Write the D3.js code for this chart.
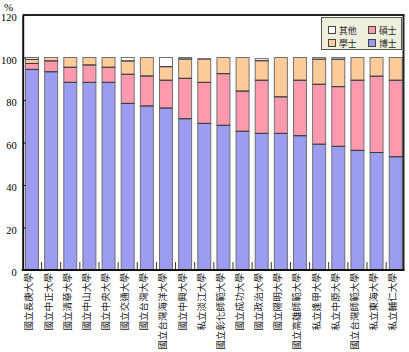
<!DOCTYPE html>
<html><head><meta charset="utf-8">
<script src="https://cdn.jsdelivr.net/npm/d3@7"></script>
<style>html,body{margin:0;padding:0;background:#fff;}svg{display:block;}</style>
</head><body>
<svg id="chart" width="409" height="352"></svg>
<script>
const categories = ["國立長庚大學","國立中正大學","國立清華大學","國立中山大學","國立中央大學","國立交通大學","國立台灣大學","國立台灣海洋大學","國立中興大學","私立淡江大學","國立彰化師範大學","國立成功大學","國立政治大學","國立陽明大學","國立高雄師範大學","私立逢甲大學","私立中原大學","國立台灣師範大學","私立東海大學","私立輔仁大學"];
const doctor   = [94.4,93.3,88.3,88.3,88.3,78.4,77.2,76.2,71.2,69.0,68.1,65.3,64.3,64.3,63.2,59.2,58.2,56.3,55.3,53.3];
const master   = [2.8,5.1,7.1,8.2,7.1,13.7,14.1,13.1,19.0,19.3,24.3,18.9,25.0,17.2,26.1,28.2,28.1,33.0,35.9,36.0];
const bachelor = [1.9,1.6,4.6,3.5,4.6,6.3,8.7,6.4,9.1,11.0,7.6,15.8,9.2,18.5,10.7,11.8,12.9,10.7,8.8,10.7];
const other    = [0.9,0,0,0,0,1.6,0,4.3,0.7,0,0,0,1.0,0,0,0.8,0.8,0,0,0];
const seriesNames = ["博士","碩士","學士","其他"];
const yTicks = [0,20,40,60,80,100,120];

(function(){
const colors = {"博士":"#9c9cf0","碩士":"#ff9aae","學士":"#ffcc99","其他":"#ffffff"};
const seriesData = {"博士":doctor,"碩士":master,"學士":bachelor,"其他":other};

const svg = d3.select("#chart");
const pLeft = 22.7, pRight = 403.5, pTop = 15, pBottom = 270;

const x = d3.scaleBand().domain(categories).range([pLeft, 405]).paddingInner(0.27).paddingOuter(0.12);
const y = d3.scaleLinear().domain([0,120]).range([pBottom, pTop]);

const table = categories.map((c,i)=>{const o={cat:c}; seriesNames.forEach(s=>o[s]=seriesData[s][i]); return o;});
const stacked = d3.stack().keys(seriesNames)(table);

const g = svg.append("g");
stacked.forEach(layer=>{
  g.selectAll(null).data(layer.filter(d=>d[1]-d[0]>0)).enter().append("rect")
    .attr("x", d=>x(d.data.cat)+0.5)
    .attr("y", d=>y(d[1]))
    .attr("width", x.bandwidth()-1)
    .attr("height", d=>y(d[0])-y(d[1]))
    .attr("fill", colors[layer.key])
    .attr("stroke", "#707070")
    .attr("stroke-width", 1);
});
stacked.slice(0,3).forEach(layer=>{
  g.selectAll(null).data(layer.filter(d=>d[1]-d[0]>0 && d[1] < 99.5)).enter().append("line")
    .attr("x1", d=>x(d.data.cat)+0.5).attr("x2", d=>x(d.data.cat)+x.bandwidth()-0.5)
    .attr("y1", d=>y(d[1])).attr("y2", d=>y(d[1]))
    .attr("stroke","#3a3a3a").attr("stroke-width",1);
});

const step = x.step();
svg.append("g").selectAll("line").data(categories.slice(1)).enter().append("line")
  .attr("x1", d=>x(d)-step*x.paddingInner()/2).attr("x2", d=>x(d)-step*x.paddingInner()/2)
  .attr("y1", pBottom-8).attr("y2", pBottom).attr("stroke","#333").attr("stroke-width",1);

svg.append("line").attr("x1",pLeft).attr("x2",pRight+1).attr("y1",pTop).attr("y2",pTop).attr("stroke","#222").attr("stroke-width",2);
svg.append("line").attr("x1",pRight).attr("x2",pRight).attr("y1",pTop).attr("y2",pBottom).attr("stroke","#222").attr("stroke-width",2);

const yAxis = d3.axisLeft(y).tickValues(yTicks).tickSizeInner(-3).tickSizeOuter(0).tickPadding(6);
const ya = svg.append("g").attr("transform",`translate(${pLeft},0)`).call(yAxis);
ya.select(".domain").attr("stroke","#111").attr("stroke-width",2);
ya.selectAll(".tick line").attr("stroke","#111");
ya.selectAll(".tick text").attr("font-family","Liberation Serif, serif").attr("font-size","10.5px").attr("fill","#000").attr("dy","0.55em");
svg.append("line").attr("x1",pLeft-1).attr("x2",pRight+1).attr("y1",pBottom).attr("y2",pBottom).attr("stroke","#111").attr("stroke-width",2);

svg.append("text").attr("x",4).attr("y",11).attr("font-family","Liberation Serif, serif").attr("font-size","11px").text("%");

svg.append("g").selectAll("text").data(categories).enter().append("text")
  .attr("transform", d=>`translate(${x(d)+x.bandwidth()/2-3},${pBottom+3}) rotate(-90)`)
  .attr("text-anchor","end").attr("dy","0.35em")
  .attr("font-family","Noto Sans CJK TC, sans-serif").attr("font-size","9.6px").attr("fill","#222")
  .text(d=>d);

const lg = svg.append("g");
lg.append("rect").attr("x",321.5).attr("y",17.5).attr("width",80).attr("height",32).attr("fill","#eeeedc").attr("stroke","#555").attr("stroke-width",1);
const legendItems = [["其他",328,26],["碩士",368,26],["學士",328,39],["博士",368,39]];
legendItems.forEach(([name,lx,ly])=>{
  lg.append("rect").attr("x",lx+0.5).attr("y",ly+0.5).attr("width",7).attr("height",7).attr("fill",colors[name]).attr("stroke","#444");
  lg.append("text").attr("x",lx+11).attr("y",ly+7.5).attr("font-family","Noto Sans CJK TC, sans-serif").attr("font-size","8.8px").attr("fill","#222").text(name);
});
})();
</script>
</body></html>
